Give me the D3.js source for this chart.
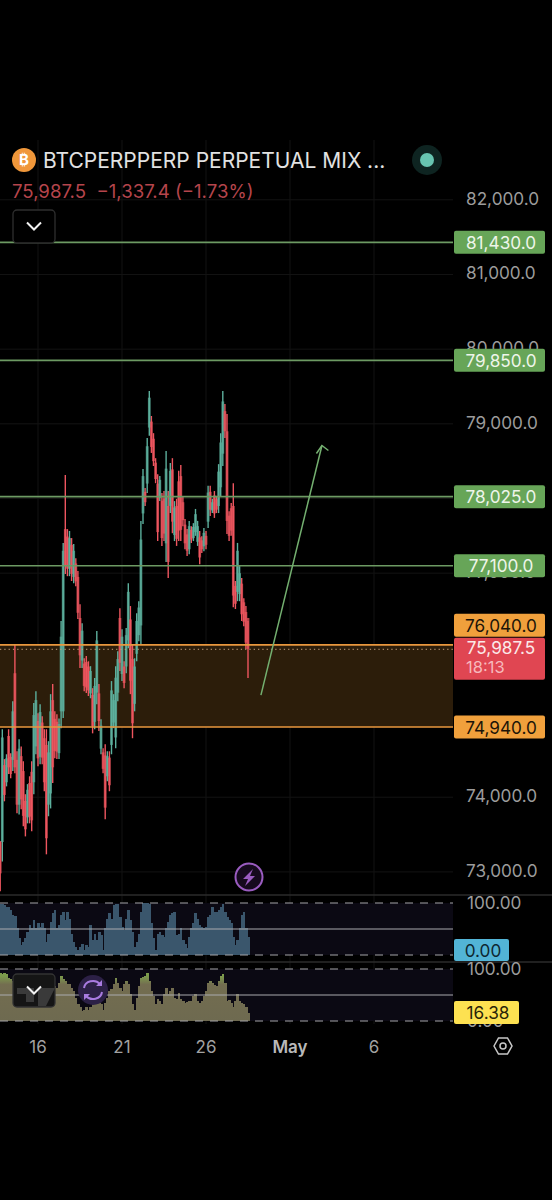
<!DOCTYPE html>
<html><head><meta charset="utf-8">
<script src="https://cdn.jsdelivr.net/npm/d3@7"></script>
<style>html,body{margin:0;padding:0;background:#000}svg{display:block}text{font-family:Inter,"Noto Sans",sans-serif}</style>
</head><body><svg id="c" width="552" height="1200"></svg>
<script>
const firstCandleDay = 13.75, candlesPerDay = 8;
const opens = [73410,73400,74430,74200,74820,74540,74500,75660,74500,73900,74550,74350,73950,73730,74190,74340,74200,74680,75020,74540,75000,74790,74700,73900,74050,75300,75050,75010,74590,75150,75150,77590,77490,77060,77380,76950,77130,76950,76400,75830,75790,75810,75750,75390,75370,75010,75400,75390,74650,74600,74560,74280,74530,74700,75000,74800,75400,76400,75650,75750,75750,76100,76380,75850,75250,75920,76170,76300,77800,78090,78200,78950,79030,78800,78480,78200,78010,77970,78000,77400,77900,77900,78390,77510,77900,78230,78300,77950,77650,77520,77320,77580,77470,77550,77420,77480,77440,77360,77500,77690,78090,77840,78040,77990,77900,78150,78600,79170,78900,77770,77870,77900,76830,76750,76720,76860,76610,76480,76400];
const closes = [72980,74800,74030,74520,74400,74310,75150,74400,73900,74650,73970,73750,73570,74100,73740,73690,75100,75300,74520,75140,74530,74200,73450,74600,75150,74400,74620,74610,74980,76150,77300,77100,77060,77470,76990,77300,76890,76470,75900,76230,75490,75470,75430,75690,74950,75490,76100,75020,74960,74380,73860,74550,74160,75430,75300,75600,75850,75800,76150,75530,76170,76750,75560,74990,75750,76360,76540,77450,78300,77950,78700,79350,78690,78500,78260,77550,78250,77470,77530,78400,77150,78370,77690,77880,77460,77570,77580,77710,77400,77300,77630,77450,77620,77790,77630,77210,77320,77540,77380,78080,77850,77950,77800,77850,78360,78750,79300,78900,77700,77500,77570,76700,76590,77300,77000,76450,76350,76070,75987.5];
const highs = [73410,74910,74510,74575,74910,74590,75285,76050,74615,74775,74680,74480,74040,74175,74280,74480,75260,75420,75125,75245,75085,74910,74910,74750,75380,75515,75150,75110,75055,76360,77405,78315,77590,77565,77470,77390,77200,77030,76585,76330,75860,75890,75820,75755,75460,75595,76225,75515,75045,74655,74710,74615,74615,75555,75380,75755,75955,76530,76250,75820,76265,76865,76560,76050,75860,76465,76625,77700,78395,78140,78810,79440,79105,78875,78540,78325,78300,78075,78100,78635,78100,78475,78540,77965,77995,78370,78450,78035,77725,77590,77700,77630,77670,77860,77700,77565,77495,77605,77565,78170,78170,77995,78100,78035,78460,78875,79440,79265,79130,77830,77940,78205,76895,77405,77095,76935,76665,76560,76360];
const lows = [72740,73140,73945,74145,74310,74255,74350,74320,73785,73770,73840,73610,73475,73650,73650,73545,74040,74575,74415,74440,74440,74080,73235,73745,73850,74190,74520,74510,74510,74925,75060,76990,76960,76960,76895,76865,76825,76385,75730,75730,75420,75395,75355,75325,74855,74910,75245,74885,74575,74320,73705,74215,74080,74575,74925,74655,75285,75690,75555,75460,75660,75995,75380,74790,75150,75820,76090,76050,77660,77900,78075,78840,78610,78435,78205,77430,77965,77365,77430,77150,76935,77805,77535,77430,77365,77430,77430,77630,77320,77230,77255,77405,77430,77500,77365,77120,77270,77295,77320,77605,77765,77805,77740,77805,77805,78035,78435,78810,77525,77430,77500,76545,76520,76625,76625,76360,76290,75985,75595];
const oscillatorTop = [99,99,97,92,92,86,76,75,51,32,19,25,32,45,57,51,67,51,61,54,61,51,25,41,64,80,86,51,57,76,83,67,83,70,41,25,16,10,16,22,10,19,16,57,29,41,29,45,38,10,51,70,80,70,96,99,99,73,54,48,70,86,67,45,16,25,41,83,100,100,100,99,61,32,10,41,45,38,35,51,64,76,80,83,38,41,51,29,22,13,35,51,61,80,70,57,54,51,54,73,76,92,83,83,86,92,99,83,73,67,61,35,19,29,51,76,83,51,35];
const oscillatorBottom = [93,91,93,90,83,80,77,80,77,76,74,72,67,64,61,64,61,58,58,54,51,48,45,51,54,61,67,64,74,87,80,77,71,71,64,58,45,32,26,19,22,26,22,26,32,38,38,35,32,22,35,45,58,61,71,83,74,64,58,71,76,72,51,32,22,45,67,83,85,87,93,77,58,48,32,42,38,32,51,63,51,58,64,45,42,54,42,38,35,37,38,38,48,51,38,35,38,48,58,74,76,74,69,67,76,87,91,74,38,40,35,26,38,51,38,35,32,26,16];
const priceTicks = [82000,81000,80000,79000,78000,77000,74000,73000];
const greenLevels = [81430,79850,78025,77100];
const zoneLevels = [76040,74940];
const lastPrice = 75987.5;
const lastPriceText = "75,987.5", countdown = "18:13";
const dayTicks = [16,21,26,31,36];
const dayLabels = ["16","21","26","May","6"];
const arrowDays = [29.27,32.9], arrowPrices = [75367,78710];
const bandLevels = [100,50,0];
const title = "BTCPERPPERP PERPETUAL MIX ...";
const quote = "75,987.5  −1,337.4 (−1.73%)";

const W=552, plotR=453;
const svg=d3.select("#c");
svg.append("rect").attr("width",W).attr("height",1200).attr("fill","#000");
const x=d3.scaleLinear().domain([16,36]).range([38,374]);
const y=d3.scaleLinear().domain([74000,82000]).range([797.2,199.8]);
const t1=d3.scaleLinear().domain([0,100]).range([955,903]);
const t2=d3.scaleLinear().domain([0,100]).range([1021,969]);
const fmt=d3.format(",.1f");
const dayOf=i=>firstCandleDay+i/candlesPerDay;
const step=x(1)-x(0), slot=step/candlesPerDay;
const idx=d3.range(opens.length);
const defs=svg.append("defs");
defs.append("clipPath").attr("id","pl").append("rect").attr("width",plotR).attr("y",140).attr("height",755);
defs.append("filter").attr("id","soft").attr("x",-.05).attr("y",-.05).attr("width",1.1).attr("height",1.1).append("feGaussianBlur").attr("stdDeviation",.5);
const grad=defs.append("linearGradient").attr("id","og").attr("gradientUnits","userSpaceOnUse").attr("x1",0).attr("x2",0).attr("y1",t2(100)).attr("y2",t2(0));
[[0,"#7fa04a"],[.14,"#7c9a4c"],[.3,"#736d50"],[1,"#6e6a50"]].forEach(s=>grad.append("stop").attr("offset",s[0]).attr("stop-color",s[1]));

// grid
const g=svg.append("g").attr("stroke","#131313").attr("stroke-width",1);
g.selectAll("line.v").data(dayTicks).join("line").attr("x1",d=>x(d)).attr("x2",d=>x(d)).attr("y1",140).attr("y2",1024);
g.selectAll("line.h").data(d3.range(73000,83000,1000)).join("line").attr("x1",0).attr("x2",plotR).attr("y1",d=>y(d)).attr("y2",d=>y(d));

// zone
svg.append("rect").attr("x",0).attr("width",plotR).attr("y",y(zoneLevels[0])).attr("height",y(zoneLevels[1])-y(zoneLevels[0])).attr("fill","#2c1d0a");

// candles
const cg=svg.append("g").attr("clip-path","url(#pl)").append("g").attr("filter","url(#soft)");
const col=i=>closes[i]>=opens[i]?"#5cb09d":"#ee555f";
cg.selectAll("line.w").data(idx).join("line").attr("x1",i=>x(dayOf(i))).attr("x2",i=>x(dayOf(i))).attr("y1",i=>y(highs[i])).attr("y2",i=>y(lows[i])).attr("stroke",col).attr("stroke-width",1.4);
cg.selectAll("rect").data(idx).join("rect").attr("x",i=>x(dayOf(i))-1.4).attr("width",2.8).attr("y",i=>y(Math.max(opens[i],closes[i]))).attr("height",i=>Math.abs(y(opens[i])-y(closes[i]))).attr("fill",col).attr("fill-opacity",.75);

// levels
svg.selectAll("line.gl").data(greenLevels).join("line").attr("x1",0).attr("x2",plotR).attr("y1",d=>y(d)).attr("y2",d=>y(d)).attr("stroke","#6d9a63").attr("stroke-width",1.6);
svg.selectAll("line.zl").data(zoneLevels).join("line").attr("x1",0).attr("x2",plotR).attr("y1",d=>y(d)).attr("y2",d=>y(d)).attr("stroke","#e8973e").attr("stroke-width",1.6);
svg.append("line").attr("x1",0).attr("x2",plotR).attr("y1",y(lastPrice)+.5).attr("y2",y(lastPrice)+.5).attr("stroke","#c9a07a").attr("stroke-dasharray","1.3 3").attr("stroke-width",1);

// arrow
const ax=arrowDays.map(x), ay=arrowPrices.map(y);
const arrow=svg.append("g").attr("stroke","#74b070").attr("stroke-width",1.5).attr("fill","none");
arrow.append("path").attr("d",d3.line()([[ax[0],ay[0]],[ax[1],ay[1]]]));
arrow.append("path").attr("d",d3.line()([[ax[1]-5.5,ay[1]+8],[ax[1],ay[1]],[ax[1]+6.5,ay[1]+5]]));

// axis
const axis=svg.append("g").attr("transform",`translate(${plotR},-1)`).call(d3.axisRight(y).tickValues(priceTicks).tickFormat(fmt).tickSize(0).tickPadding(13));
axis.select(".domain").remove();
axis.selectAll("text").attr("fill","#9c9c9c").attr("font-size",17.2).attr("font-family","Inter,sans-serif");

// price tags
function tag(val,fill,color,cy){
  const c=cy===undefined?y(val):cy;
  svg.append("rect").attr("x",454).attr("width",91).attr("y",c-11.5).attr("height",23).attr("rx",2).attr("fill",fill);
  svg.append("text").attr("x",501).attr("y",c+0.5).attr("dy",".36em").attr("text-anchor","middle").attr("font-size",17.2).attr("fill",color).text(fmt(val));
}
greenLevels.forEach(v=>tag(v,"#67a558","#eef5ea"));
const ly=y(lastPrice);
tag(zoneLevels[0],"#f0a03c","#1c1408",ly-23.5);
tag(zoneLevels[1],"#f0a03c","#1c1408");
svg.append("rect").attr("x",454).attr("width",91).attr("y",ly-11).attr("height",42).attr("rx",2).attr("fill","#e04652");
svg.append("text").attr("x",501).attr("y",ly-.5).attr("dy",".36em").attr("text-anchor","middle").attr("font-size",17.2).attr("fill","#fbe9e9").text(lastPriceText);
svg.append("text").attr("x",466).attr("y",ly+18).attr("dy",".36em").attr("font-size",16.5).attr("fill","#f7b9bc").text(countdown);

// separators
svg.selectAll("line.s").data([895,962]).join("line").attr("x1",0).attr("x2",W).attr("y1",d=>d).attr("y2",d=>d).attr("stroke","#2b2b2b").attr("stroke-width",1.4);

// oscillators
function osc(sc,vals,fill){
  svg.append("rect").attr("x",0).attr("width",plotR).attr("y",sc(100)).attr("height",sc(0)-sc(100)).attr("fill","#0b0913");
  const p=svg.append("g").attr("shape-rendering","crispEdges");
  p.selectAll("rect").data(vals).join("rect").attr("x",(d,i)=>x(dayOf(i))-slot/2).attr("width",slot+.6).attr("y",d=>sc(d)).attr("height",d=>sc(0)-sc(d)).attr("fill",fill);
  svg.selectAll(null).data(bandLevels).join("line").attr("x1",0).attr("x2",plotR).attr("y1",d=>sc(d)).attr("y2",d=>sc(d)).attr("stroke",d=>d===50?"#aaa9ad":"#a4a4a8").attr("stroke-width",1.2).attr("stroke-dasharray",d=>d===50?null:"8 7");
}
osc(t1,oscillatorTop,"#3a566c");
osc(t2,oscillatorBottom,"url(#og)");

// osc axes
svg.append("text").attr("x",467).attr("y",t1(100)).attr("dy",".36em").attr("font-size",17.2).attr("fill","#9c9c9c").text(d3.format(".2f")(100));
svg.append("text").attr("x",467).attr("y",t2(100)).attr("dy",".36em").attr("font-size",17.2).attr("fill","#9c9c9c").text(d3.format(".2f")(100));
svg.append("text").attr("x",467).attr("y",t2(0)).attr("dy",".36em").attr("font-size",17.2).attr("fill","#9c9c9c").text(d3.format(".2f")(0));
svg.append("rect").attr("x",454).attr("y",939).attr("width",55).attr("height",22).attr("rx",2).attr("fill","#52b4d6");
svg.append("text").attr("x",483).attr("y",951).attr("dy",".36em").attr("text-anchor","middle").attr("font-size",17.2).attr("fill","#0e2730").text("0.00");
svg.append("rect").attr("x",454).attr("y",1001).attr("width",65).attr("height",23).attr("rx",2).attr("fill","#fde151");
svg.append("text").attr("x",488).attr("y",1013).attr("dy",".36em").attr("text-anchor","middle").attr("font-size",17.2).attr("fill","#2a2408").text("16.38");

// x labels
svg.selectAll("text.d").data(dayTicks).join("text").attr("x",d=>x(d)).attr("y",1047).attr("dy",".36em").attr("text-anchor","middle").attr("font-size",17).attr("fill",(d,i)=>i===3?"#b9b9b9":"#a2a2a2").attr("font-weight",(d,i)=>i===3?600:400).text((d,i)=>dayLabels[i]);

// header
svg.append("circle").attr("cx",24).attr("cy",160).attr("r",12).attr("fill","#f0973a");
svg.append("text").attr("x",24).attr("y",160).attr("dy",".36em").attr("text-anchor","middle").attr("font-size",15).attr("font-weight",700).attr("fill","#fff").attr("font-family","DejaVu Sans").text("₿");
svg.append("text").attr("x",43).attr("y",160).attr("dy",".36em").attr("font-size",21).attr("fill","#e2e2e2").text(title);
svg.append("text").attr("x",12).attr("y",191).attr("dy",".36em").attr("font-size",18.6).attr("fill","#b5454c").style("white-space","pre").text(quote);
svg.append("circle").attr("cx",427).attr("cy",160).attr("r",15).attr("fill","#0e2421");
svg.append("circle").attr("cx",427).attr("cy",160).attr("r",7).attr("fill","#67c4b0");

// buttons
function chevron(cx,cy){svg.append("path").attr("d",`M${cx-7},${cy-3.5}L${cx},${cy+3.5}L${cx+7},${cy-3.5}`).attr("fill","none").attr("stroke","#f2f2f2").attr("stroke-width",2);}
svg.append("rect").attr("x",13).attr("y",210).attr("width",42).attr("height",33).attr("rx",4).attr("fill","#000").attr("stroke","#2e2e2e").attr("stroke-width",1.3);
chevron(34,226);
svg.append("rect").attr("x",13).attr("y",974).attr("width",42).attr("height",33).attr("rx",4).attr("fill","#151515").attr("stroke","#333").attr("stroke-width",1.3);
svg.append("path").attr("d","M17,988h17v14h-8v-8h-9zM38,988h17l-9,18h-8z").attr("fill","#3a3a3a");
chevron(34,990);

// purple icons
svg.append("circle").attr("cx",249).attr("cy",877).attr("r",13.5).attr("fill","#160a1e").attr("stroke","#9a5cc0").attr("stroke-width",2);
svg.append("path").attr("d","M253,869L243,879h5l-3,7l10,-10h-5z").attr("fill","#9a5cc0");
svg.append("circle").attr("cx",93).attr("cy",990).attr("r",15).attr("fill","#2c2046");
svg.append("path").attr("d","M84,988a9,8 0 0 1 16,-4M102,992a9,8 0 0 1 -16,4").attr("fill","none").attr("stroke","#a97be0").attr("stroke-width",2);
svg.append("path").attr("d","M102,980v6h-6zM84,1000v-6h6z").attr("fill","#a97be0");

// settings hexagon
svg.append("path").attr("d","M494,1046L498.5,1038H507.5L512,1046L507.5,1054H498.5Z").attr("fill","none").attr("stroke","#c8c8c8").attr("stroke-width",1.5);
svg.append("circle").attr("cx",503).attr("cy",1046).attr("r",3).attr("fill","none").attr("stroke","#c8c8c8").attr("stroke-width",1.5);
</script></body></html>
